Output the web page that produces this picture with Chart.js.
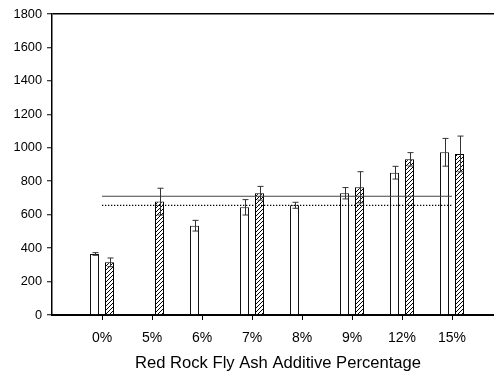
<!DOCTYPE html>
<html>
<head>
<meta charset="utf-8">
<script src="https://cdn.jsdelivr.net/npm/chart.js@4.4.1/dist/chart.umd.min.js"></script>
<style>
  html, body { margin: 0; padding: 0; background: #fff; }
  #wrap { width: 494px; height: 373px; position: relative; }
</style>
</head>
<body>
<div id="wrap"><canvas id="c"></canvas></div>
<script>
// ---- data ----
const categories = ['0%', '5%', '6%', '7%', '8%', '9%', '12%', '15%'];
const plainValues   = [365, null, 534, 644, 656, 728, 851, 973];
const plainErrors   = [8,   null, 32,  46,  18,  34,  38,  83];
const hatchedValues = [315, 678, null, 728, null, 764, 931, 963];
const hatchedErrors = [26,  80,  null, 41,  null, 93,  40,  107];
const solidRefValue = 710;
const dottedRefValue = 655;
const yTicks = [0, 200, 400, 600, 800, 1000, 1200, 1400, 1600, 1800];
const xAxisTitle = 'Red Rock Fly Ash Additive Percentage';

const FONT = '"Liberation Sans", Arial, sans-serif';

// hatch pattern
function makeHatch() {
  const s = 4;
  const pc = document.createElement('canvas');
  pc.width = s; pc.height = s;
  const g = pc.getContext('2d');
  g.fillStyle = '#fff';
  g.fillRect(0, 0, s, s);
  g.strokeStyle = '#000';
  g.lineWidth = 1;
  g.beginPath();
  g.moveTo(0, s); g.lineTo(s, 0);
  g.moveTo(-1, 1); g.lineTo(1, -1);
  g.moveTo(s - 1, s + 1); g.lineTo(s + 1, s - 1);
  g.stroke();
  const ctx = document.createElement('canvas').getContext('2d');
  return ctx.createPattern(pc, 'repeat');
}

const toPoints = (arr) => arr.map((v, i) => ({ x: i + 1, y: v }));
const refLine = (v) => [{ x: 1, y: v }, { x: categories.length, y: v }];

const errorBarPlugin = {
  id: 'errorBars',
  afterDatasetsDraw(chart) {
    const ctx = chart.ctx;
    const y = chart.scales.y;
    ctx.save();
    ctx.strokeStyle = '#333';
    ctx.lineWidth = 1;
    chart.data.datasets.forEach((ds, di) => {
      if (!ds.errors) return;
      const meta = chart.getDatasetMeta(di);
      meta.data.forEach((el, i) => {
        const v = ds.data[i].y, e = ds.errors[i];
        if (v == null || e == null) return;
        const x = Math.round(el.x) + 0.5;
        const yt = y.getPixelForValue(v + e);
        const yb = y.getPixelForValue(v - e);
        ctx.beginPath();
        ctx.moveTo(x, yt); ctx.lineTo(x, yb);
        ctx.moveTo(x - 3, yt); ctx.lineTo(x + 3, yt);
        ctx.moveTo(x - 3, yb); ctx.lineTo(x + 3, yb);
        ctx.stroke();
      });
    });
    ctx.restore();
  }
};

const titlePlugin = {
  id: 'xTitle',
  afterDraw(chart) {
    const ctx = chart.ctx;
    ctx.save();
    ctx.font = '16.6px ' + FONT;
    ctx.fillStyle = '#000';
    ctx.textAlign = 'center';
    ctx.textBaseline = 'alphabetic';
    ctx.fillText(xAxisTitle, 278, 368);
    ctx.restore();
  }
};

new Chart(document.getElementById('c'), {
  type: 'bar',
  data: {
    datasets: [
      {
        type: 'line', data: refLine(solidRefValue), borderColor: '#444', borderWidth: 1.2,
        pointRadius: 0, fill: false, order: 1
      },
      {
        type: 'line', data: refLine(dottedRefValue), borderColor: '#000', borderWidth: 1.3,
        borderDash: [1.3, 1.7], pointRadius: 0, fill: false, order: 1
      },
      {
        data: toPoints(plainValues), errors: plainErrors,
        backgroundColor: '#fff', borderColor: '#111', borderWidth: 1,
        categoryPercentage: 0.6, barPercentage: 0.6, order: 2
      },
      {
        data: toPoints(hatchedValues), errors: hatchedErrors,
        backgroundColor: makeHatch(), borderColor: '#000', borderWidth: 1,
        categoryPercentage: 0.6, barPercentage: 0.6, order: 2
      }
    ]
  },
  options: {
    responsive: true,
    maintainAspectRatio: false,
    animation: false,
    devicePixelRatio: 1,
    layout: { padding: { top: 14, left: 0, right: 0, bottom: 0 } },
    plugins: { legend: { display: false }, tooltip: { enabled: false }, title: { display: false } },
    scales: {
      x: {
        type: 'linear',
        min: 0,
        max: 8.84,
        offset: false,
        afterFit(s) { s.height = 58; },
        afterBuildTicks(s) { s.ticks = categories.map((c, i) => ({ value: i + 1 })); },
        ticks: {
          autoSkip: false, maxRotation: 0, padding: 10,
          color: '#000', font: { family: FONT, size: 14 },
          callback: (v) => categories[v - 1]
        },
        grid: { offset: false, drawOnChartArea: false, drawTicks: true, tickLength: 5, tickColor: '#000', tickWidth: 1 },
        border: { display: true, color: '#000', width: 2 }
      },
      y: {
        min: 0,
        max: 1800,
        afterFit(s) { s.width = 52; },
        afterBuildTicks(s) { s.ticks = yTicks.map(v => ({ value: v })); },
        ticks: { color: '#000', padding: 5, font: { family: FONT, size: 12.8 }, callback: (v) => String(v) },
        grid: {
          drawTicks: true, tickLength: 5, tickColor: '#000', tickWidth: 1,
          color: (c) => (c.tick && c.tick.value === 1800) ? '#000' : 'rgba(0,0,0,0)',
          lineWidth: 1.5
        },
        border: { display: true, color: '#000', width: 1.5 }
      }
    }
  },
  plugins: [errorBarPlugin, titlePlugin]
});
</script>
</body>
</html>
